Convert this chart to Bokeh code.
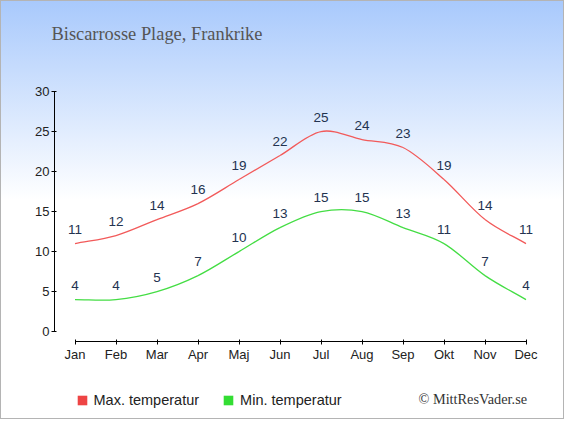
import numpy as np
from bokeh.plotting import figure
from bokeh.layouts import column
from bokeh.models import Range1d, FixedTicker, Label, Legend, LegendItem
from bokeh.core.properties import value
from bokeh.embed import file_html
from bokeh.resources import INLINE

months = ["Jan", "Feb", "Mar", "Apr", "Maj", "Jun", "Jul", "Aug", "Sep", "Okt", "Nov", "Dec"]
max_temp = [11, 12, 14, 16, 19, 22, 25, 24, 23, 19, 14, 11]
min_temp = [4, 4, 5, 7, 10, 13, 15, 15, 13, 11, 7, 4]
y_ticks = [0, 5, 10, 15, 20, 25, 30]
title_text = "Biscarrosse Plage, Frankrike"
max_label = "Max. temperatur"
min_label = "Min. temperatur"
credit = "\u00a9 MittResVader.se"

xs = np.arange(len(months), dtype=float)
W = 564


def blank(h):
    f = figure(width=W, height=h, output_backend="svg", toolbar_location=None,
               x_axis_location=None, y_axis_location=None, min_border=0,
               x_range=Range1d(0, 1), y_range=Range1d(0, 1), frame_align=False)
    f.background_fill_alpha = 0
    f.border_fill_alpha = 0
    f.outline_line_color = None
    f.grid.visible = False
    return f


# ---- title strip
top = blank(60)
top.add_layout(Label(x=51, y=27, x_units="screen", y_units="screen", text=title_text,
                     text_font="Liberation Serif", text_font_size="18.4px", text_color="#555555",
                     text_baseline="middle"))

# ---- main chart
p = figure(width=W, height=311, output_backend="svg", toolbar_location=None,
           x_range=Range1d(-0.5, 11.5), y_range=Range1d(-1.23, 30),
           min_border_left=54, min_border_right=18, min_border_top=31, min_border_bottom=30)
p.background_fill_alpha = 0
p.border_fill_alpha = 0
p.outline_line_color = None
p.grid.visible = False

for ax in (p.xaxis[0], p.yaxis[0]):
    ax.axis_line_color = "#000000"
    ax.major_tick_line_color = "#000000"
    ax.minor_tick_line_color = None
    ax.major_label_text_font = "Liberation Sans"
    ax.major_label_text_font_size = "13px"
    ax.major_label_text_color = "#222222"
    ax.major_tick_out = 3
    ax.major_tick_in = 2
p.xaxis[0].bounds = (0, 11)
p.xaxis[0].ticker = FixedTicker(ticks=list(range(len(months))))
p.xaxis[0].major_label_overrides = {i: m for i, m in enumerate(months)}
p.xaxis[0].major_label_standoff = 2
p.yaxis[0].bounds = (0, 30)
p.yaxis[0].ticker = FixedTicker(ticks=y_ticks)
p.yaxis[0].major_label_standoff = 2


def catmull(vals):
    y = np.asarray(vals, dtype=float)
    m = np.empty_like(y)
    m[1:-1] = (y[2:] - y[:-2]) / 2.0
    m[0] = y[1] - y[0]
    m[-1] = y[-1] - y[-2]
    return dict(x0=xs[:-1], y0=y[:-1], x1=xs[1:], y1=y[1:],
                cx0=xs[:-1] + 1 / 3, cy0=y[:-1] + m[:-1] / 3,
                cx1=xs[1:] - 1 / 3, cy1=y[1:] - m[1:] / 3)


p.bezier(**catmull(max_temp), line_color="#f25a5a", line_width=1.3)
p.bezier(**catmull(min_temp), line_color="#44dd44", line_width=1.3)

for vals in (max_temp, min_temp):
    p.text(x=xs, y=vals, text=[str(v) for v in vals], text_font=value("Liberation Sans"),
           text_font_size="13.5px", text_color="#233350", text_align="center",
           text_baseline="alphabetic", y_offset=-14)

# ---- legend strip (hidden proxy renderers give the legend its swatches)
bot = blank(48)
r_max = bot.quad(left=[xs[0]], right=[xs[-1]], bottom=[min(max_temp)], top=[max(max_temp)],
                 fill_color="#ee4444", line_color=None, visible=False)
r_min = bot.quad(left=[xs[0]], right=[xs[-1]], bottom=[min(min_temp)], top=[max(min_temp)],
                 fill_color="#33dd33", line_color=None, visible=False)
legend = Legend(items=[LegendItem(label=max_label, renderers=[r_max]),
                       LegendItem(label=min_label, renderers=[r_min])],
                orientation="horizontal", location=(75.5, 11),
                glyph_width=12, glyph_height=12, label_standoff=6, spacing=23,
                padding=0, margin=0, border_line_color=None, background_fill_alpha=0,
                label_text_font="Liberation Sans", label_text_font_size="14.5px",
                label_text_color="#222222")
bot.add_layout(legend, "center")
bot.add_layout(Label(x=418, y=21, x_units="screen", y_units="screen", text=credit,
                     text_font="Liberation Serif", text_font_size="14.3px", text_color="#333333",
                     text_baseline="middle"))

page = column(top, p, bot, spacing=0,
              styles={"background": "linear-gradient(180deg, #a8c9fc 0px, #ffffff 200px, #ffffff 100%)",
                      "outline": "1px solid #b4b4b4", "outline-offset": "-1px"})

open("out.html", "w").write(file_html(page, INLINE))
